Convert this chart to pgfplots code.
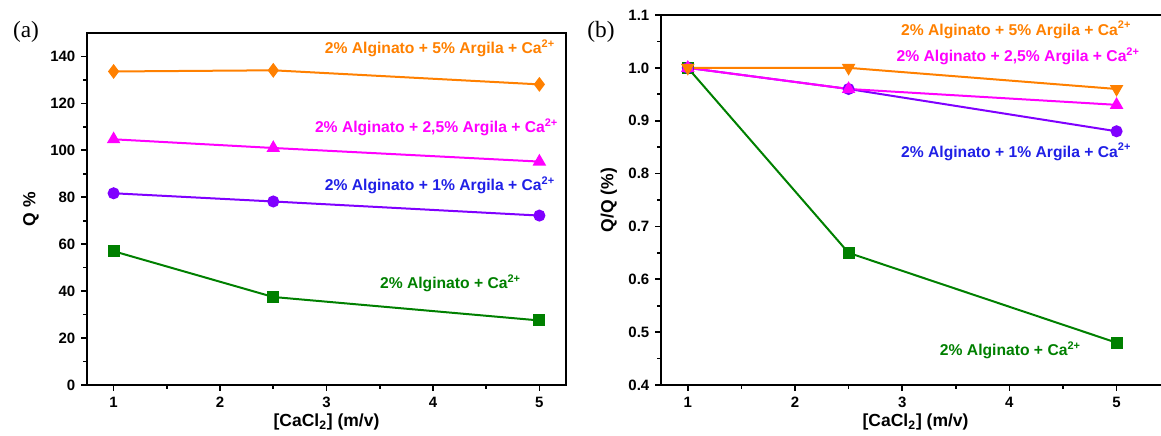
\documentclass[border=0pt]{standalone}
\usepackage{pgfplots}
\pgfplotsset{compat=1.18}
\usepackage{fontspec}
\setmainfont{Liberation Sans}
\newfontfamily\seriffont{Liberation Serif}
\definecolor{corange}{RGB}{255,128,0}
\definecolor{cmag}{RGB}{255,0,255}
\definecolor{cpurp}{RGB}{128,0,255}
\definecolor{cblue}{RGB}{32,32,230}
\definecolor{cgreen}{RGB}{0,128,0}
\tikzset{lbl/.style={font=\bfseries\fontsize{9.4}{11}\selectfont, anchor=east, inner sep=0pt}}
\pgfplotsset{
  myax/.style={
    scale only axis,
    xmin=0.75,
    xtick={1,2,3,4,5},
    minor x tick num=1,
    axis line style={line width=1.2pt},
    every tick/.style={line width=1pt, black},
    tick align=outside,
    xtick pos=bottom, ytick pos=left,
    major tick length=3.5pt, minor tick length=2.2pt,
    tick label style={font=\bfseries\small},
    /pgf/number format/assume math mode=true,
    label style={font=\bfseries\fontsize{10.5}{12}\selectfont},
    every axis plot/.append style={line width=1.2pt, mark size=3pt},
    clip=false,
  },
}
\begin{document}
\begin{tikzpicture}
\useasboundingbox (0,0) rectangle (696.6pt,261.6pt);
% panel (a)
\begin{axis}[myax, at={(52.2pt,30.6pt)}, anchor=south west,
  width=287.4pt, height=211.2pt, xmax=5.25,
  ymin=0, ymax=150, ytick={0,20,...,140}, minor y tick num=1,
  xlabel={[CaCl\textsubscript{2}] (m/v)}, ylabel={Q \%},
  xlabel style={yshift=3pt}]
\addplot[cgreen, mark=square*] coordinates {(1,57) (2.5,37.5) (5,27.5)};
\addplot[cpurp, mark=*] coordinates {(1,81.7) (2.5,78.2) (5,72.2)};
\addplot[cmag, mark=triangle*, mark size=3.5pt] coordinates {(1,104.7) (2.5,101) (5,95.2)};
\addplot[corange, mark=diamond*, mark size=3.5pt] coordinates {(1,133.6) (2.5,134.1) (5,128.1)};
\node[lbl, text=corange] at (axis cs:5.15,143.4) {2\% Alginato + 5\% Argila + Ca\textsuperscript{2+}};
\node[lbl, text=cmag] at (axis cs:5.18,109.8) {2\% Alginato + 2,5\% Argila + Ca\textsuperscript{2+}};
\node[lbl, text=cblue] at (axis cs:5.15,85.1) {2\% Alginato + 1\% Argila + Ca\textsuperscript{2+}};
\node[lbl, text=cgreen] at (axis cs:4.83,43.4) {2\% Alginato + Ca\textsuperscript{2+}};
\end{axis}
\node[font=\seriffont\fontsize{14}{16}\selectfont] at (15.6pt,242.4pt) {(a)};
% panel (b)
\begin{axis}[myax, at={(396.6pt,30.6pt)}, anchor=south west,
  width=305.5pt, height=222pt, xmax=5.5,
  ymin=0.4, ymax=1.1, ytick={0.4,0.5,...,1.1}, minor y tick num=1,
  yticklabel style={/pgf/number format/.cd, fixed, fixed zerofill, precision=1},
  xlabel={[CaCl\textsubscript{2}] (m/v)}, ylabel={Q/Q (\%)},
  xlabel style={yshift=3pt}]
\addplot[cgreen, mark=square*] coordinates {(1,1.0) (2.5,0.65) (5,0.48)};
\addplot[cpurp, mark=*] coordinates {(1,1.0) (2.5,0.96) (5,0.88)};
\addplot[cmag, mark=triangle*, mark size=3.5pt] coordinates {(1,1.0) (2.5,0.96) (5,0.93)};
\addplot[corange, mark=triangle*, mark size=3.5pt, mark options={rotate=180}] coordinates {(1,1.0) (2.5,1.0) (5,0.96)};
\node[lbl, text=corange] at (axis cs:5.14,1.072) {2\% Alginato + 5\% Argila + Ca\textsuperscript{2+}};
\node[lbl, text=cmag] at (axis cs:5.22,1.022) {2\% Alginato + 2,5\% Argila + Ca\textsuperscript{2+}};
\node[lbl, text=cblue] at (axis cs:5.14,0.841) {2\% Alginato + 1\% Argila + Ca\textsuperscript{2+}};
\node[lbl, text=cgreen] at (axis cs:4.67,0.466) {2\% Alginato + Ca\textsuperscript{2+}};
\end{axis}
\node[font=\seriffont\fontsize{14}{16}\selectfont] at (360.6pt,242.4pt) {(b)};
\end{tikzpicture}
\end{document}
